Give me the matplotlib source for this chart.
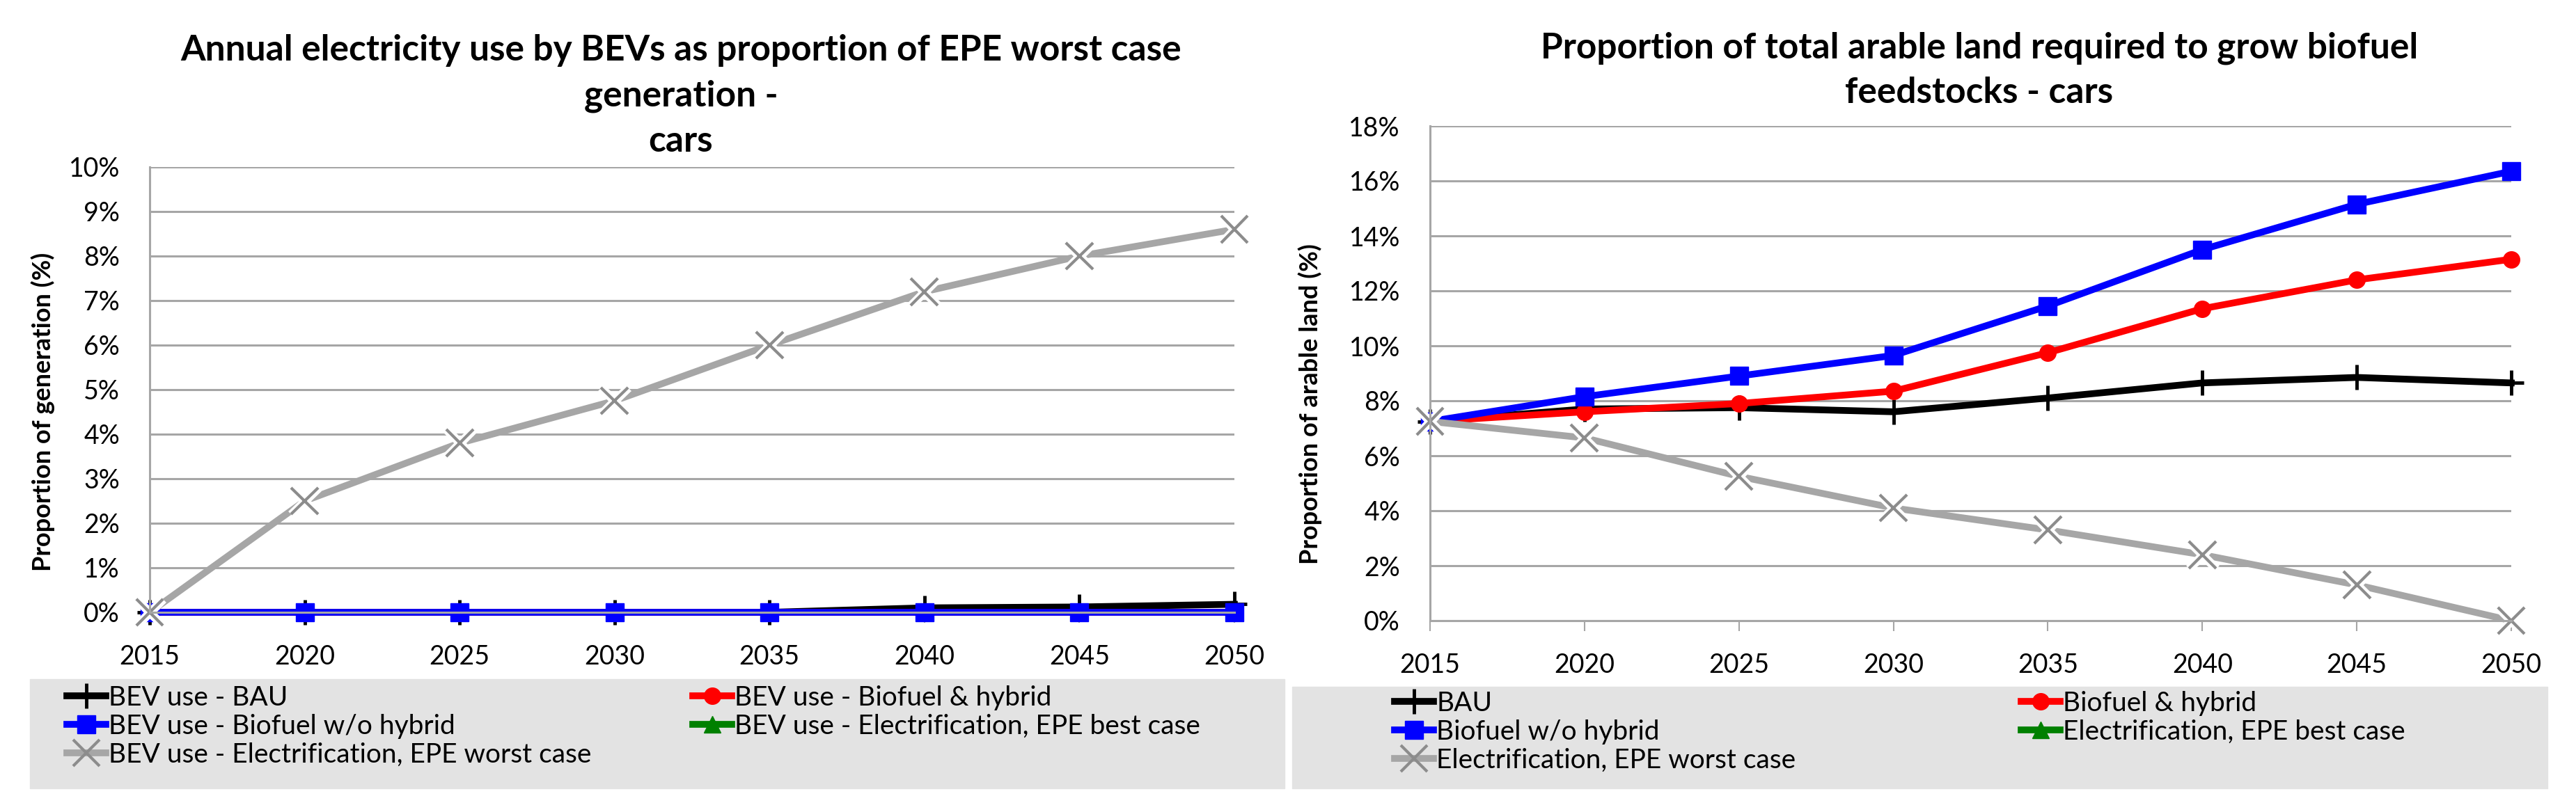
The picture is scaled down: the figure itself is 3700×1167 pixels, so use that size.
import matplotlib
matplotlib.use("Agg")
import matplotlib.pyplot as plt
import matplotlib.patheffects as pe
from matplotlib.patches import Rectangle
from matplotlib.ticker import PercentFormatter, MultipleLocator

plt.rcParams['font.family'] = ['Lato', 'DejaVu Sans']

YEARS = [2015, 2020, 2025, 2030, 2035, 2040, 2045, 2050]

# left: annual BEV electricity use as % of EPE worst case generation
elec_bau = [0, 0, 0, 0, 0, 0.10, 0.12, 0.18]
elec_bio_hybrid = [0, 0, 0, 0, 0, 0, 0, 0]
elec_bio_no_hybrid = [0, 0, 0, 0, 0, 0, 0, 0]
elec_best = [None, None, None, None, None, None, None, None]
elec_worst = [0, 2.5, 3.8, 4.75, 6.0, 7.2, 8.0, 8.6]

# right: % of total arable land needed for biofuel feedstocks
land_bau = [7.25, 7.7, 7.75, 7.6, 8.1, 8.65, 8.85, 8.65]
land_bio_hybrid = [7.25, 7.6, 7.9, 8.35, 9.75, 11.35, 12.4, 13.15]
land_bio_no_hybrid = [7.25, 8.15, 8.9, 9.65, 11.45, 13.5, 15.15, 16.35]
land_best = [None, None, None, None, None, None, None, None]
land_worst = [7.25, 6.65, 5.25, 4.1, 3.3, 2.4, 1.3, 0]

LEFT_LABELS = ["BEV use - BAU", "BEV use - Biofuel & hybrid", "BEV use - Biofuel w/o hybrid",
               "BEV use - Electrification, EPE best case", "BEV use - Electrification, EPE worst case"]
RIGHT_LABELS = ["BAU", "Biofuel & hybrid", "Biofuel w/o hybrid",
                "Electrification, EPE best case", "Electrification, EPE worst case"]

W, H = 3700, 1167
fig = plt.figure(figsize=(W / 100, H / 100), dpi=100)


def fx(px):
    return px / W


def fy(py):
    return 1 - py / H


GRID = '#a6a6a6'
LW = 7


def draw(ax, series, labels, ymax, ystep):
    bau, bh, bnh, best, worst = series
    h = []
    h += ax.plot(YEARS, bau, color='black', lw=LW, marker='+', ms=26, mew=3.5, label=labels[0], clip_on=False)
    h += ax.plot(YEARS, bh, color='#ff0000', lw=LW, marker='o', ms=17, label=labels[1], clip_on=False)
    h += ax.plot(YEARS, bnh, color='#0000ff', lw=LW, marker='s', ms=19, label=labels[2], clip_on=False)
    h += ax.plot(YEARS, best, color='#008000', lw=LW, marker='^', ms=17, label=labels[3], clip_on=False)
    h += ax.plot(YEARS, worst, color='#a6a6a6', lw=LW, marker='x', ms=28, mew=3, mec='#8c8c8c',
                 label=labels[4], clip_on=False)
    # white halo around the x markers so the line breaks there
    ax.plot(YEARS, worst, ls='none', marker='x', ms=28, mew=3, color='#8c8c8c', clip_on=False,
            path_effects=[pe.Stroke(linewidth=9, foreground='white'), pe.Normal()])

    ax.set_xlim(2015, 2050)
    ax.set_ylim(0, ymax)
    ax.set_xticks(YEARS)
    ax.yaxis.set_major_locator(MultipleLocator(ystep))
    ax.yaxis.set_major_formatter(PercentFormatter(decimals=0))
    ax.grid(axis='y', color=GRID, lw=2.2)
    ax.set_axisbelow(True)
    for s in ['top', 'right']:
        ax.spines[s].set_visible(False)
    for s in ['left', 'bottom']:
        ax.spines[s].set_color(GRID)
        ax.spines[s].set_linewidth(2.2)
    ax.tick_params(axis='x', length=11, width=1.5, color=GRID, pad=22, labelsize=27)
    ax.tick_params(axis='y', length=0, pad=31, labelsize=27)
    return h


def legend_block(handles, box, col_x, top):
    x0, y0, x1, y1 = box
    fig.patches.append(Rectangle((fx(x0), fy(y1)), fx(x1 - x0), (y1 - y0) / H,
                                 transform=fig.transFigure, color='#e3e3e3', zorder=0))
    cols = [[handles[0], handles[2], handles[4]], [handles[1], handles[3]]]
    for hs, x in zip(cols, col_x):
        fig.legend(handles=hs, loc='upper left', bbox_to_anchor=(fx(x), fy(top)),
                   frameon=False, fontsize=28, borderpad=0, borderaxespad=0,
                   handlelength=1.45, handletextpad=0.1, labelspacing=0.12)


# left chart
ax1 = fig.add_axes([fx(215), fy(880), fx(1773 - 215), (880 - 240) / H])
h1 = draw(ax1, [elec_bau, elec_bio_hybrid, elec_bio_no_hybrid, elec_best, elec_worst],
          LEFT_LABELS, 10, 1)
for txt, y in zip(["Annual electricity use by BEVs as proportion of EPE worst case",
                   "generation -", "cars"], [73, 138, 203]):
    fig.text(fx(978), fy(y), txt, ha='center', va='center', fontsize=37, fontweight='bold')
fig.text(fx(62), fy(592), "Proportion of generation (%)", rotation=90, ha='center', va='center',
         fontsize=26, fontweight='bold')
legend_block(h1, (43, 976, 1845, 1133), [96, 995], 985)

# right chart
ax2 = fig.add_axes([fx(2054), fy(892), fx(3607 - 2054), (892 - 181) / H])
h2 = draw(ax2, [land_bau, land_bio_hybrid, land_bio_no_hybrid, land_best, land_worst],
          RIGHT_LABELS, 18, 2)
for txt, y in zip(["Proportion of total arable land required to grow biofuel",
                   "feedstocks - cars"], [69, 134]):
    fig.text(fx(2843), fy(y), txt, ha='center', va='center', fontsize=37, fontweight='bold')
fig.text(fx(1882), fy(581), "Proportion of arable land (%)", rotation=90, ha='center', va='center',
         fontsize=26, fontweight='bold')
legend_block(h2, (1856, 987, 3659, 1133), [2003, 2903], 993)

fig.savefig("out.png", dpi=100)
